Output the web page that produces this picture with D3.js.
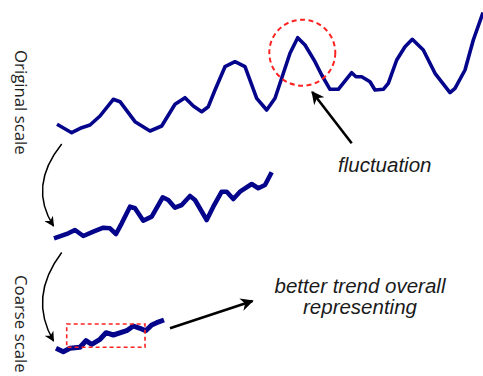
<!DOCTYPE html>
<html><head><meta charset="utf-8">
<script src="https://cdn.jsdelivr.net/npm/d3@7"></script>
<style>html,body{margin:0;padding:0;background:#fff}</style>
</head><body>
<svg id="c" width="483" height="376"></svg>
<script>
// Original scale series: time t, value v
const originalT = [0,14.7,24.7,33,43,56.3,63,78,93,104.7,118,128,136.3,144.7,151.3,158,168,178,188,199.7,209.7,218,233,240.7,248,258,264.7,273,281.3,294.7,299,304.7,313,318,326.3,331.3,339.7,348,355.3,366.3,378,393,398,408,416.3,426];
const originalV = [10.7,2.3,7.3,10,19,35.7,33.3,13.3,4,9,30.7,37.3,29,23.3,28.3,45,68.3,73.3,68.3,36.7,25,36.7,81.7,97.3,90,73.3,60,45.7,45.7,62.3,58.3,58.3,53.3,45,45.7,51.7,75,88.3,95.7,85,61.7,42.3,46.7,65,95,122.5];
// Intermediate scale series
const middleT = [-3,11.3,18,26.3,36.3,46.3,53,59,64.7,73,78,86.3,94.7,105.7,111.3,118,124.7,133,138,149.7,156.3,164.7,169.7,176.3,183,194.7,201.3,208,214.7];
const middleV = [1.7,6.7,10,4,8.3,12.3,11.7,6,16.7,33.3,31.7,19.3,23.3,42.7,40,32.3,35,44,40,20,33.3,48.3,48.3,41,48.3,56,51.7,55,67.7];
// Coarse scale series
const coarseT = [-1,6.3,13,23,29,34.7,43,49,56.3,69.7,76.3,83,88.7,94.7,99.7,107];
const coarseV = [6.7,3.3,6.7,7.7,14.3,10.7,15.7,22.3,20,24.3,29,26.7,24.3,30,32.3,35];

const labels = {
  original: "Original scale",
  coarse: "Coarse scale",
  fluct: "fluctuation",
  trend1: "better trend overall",
  trend2: "representing"
};

const svg = d3.select("#c");
const x = d3.scaleLinear().domain([0, 426]).range([57, 483]);
const yTop = d3.scaleLinear().domain([0, 100]).range([135, 35]);
const yMid = d3.scaleLinear().domain([0, 100]).range([240, 140]);
const yBot = d3.scaleLinear().domain([0, 100]).range([355, 255]);

const navy = "#05058c";
function drawLine(T, V, ys, w) {
  const pts = T.map((t, i) => [t, V[i]]);
  svg.append("path")
    .attr("d", d3.line().x(d => x(d[0])).y(d => ys(d[1])).curve(d3.curveLinear)(pts))
    .attr("fill", "none").attr("stroke", navy).attr("stroke-width", w)
    .attr("stroke-linejoin", "round").attr("stroke-linecap", "butt");
}
drawLine(originalT, originalV, yTop, 3.6);
drawLine(middleT, middleV, yMid, 4.6);
drawLine(coarseT, coarseV, yBot, 5);

// markers
const defs = svg.append("defs");
function marker(id, size) {
  defs.append("marker").attr("id", id)
    .attr("viewBox", "0 0 10 10").attr("refX", 9).attr("refY", 5)
    .attr("markerWidth", size).attr("markerHeight", size)
    .attr("markerUnits", "userSpaceOnUse")
    .attr("orient", "auto")
    .append("path").attr("d", "M0,0 L10,5 L0,10 L3,5 Z").attr("fill", "#000");
}
marker("ah", 13);
marker("ahs", 10);

// red dashed highlight circle (around peak) and rect
svg.append("circle").attr("cx", x(245.3)).attr("cy", yTop(82.3)).attr("r", 33)
  .attr("fill", "none").attr("stroke", "#f22").attr("stroke-width", 2)
  .attr("stroke-dasharray", "5,3.5");
svg.append("rect").attr("x", x(9.7)).attr("y", yBot(31)).attr("width", 78.3).attr("height", 23.3)
  .attr("fill", "none").attr("stroke", "#f22").attr("stroke-width", 1.6)
  .attr("stroke-dasharray", "4,3");

// straight arrows
svg.append("line").attr("x1", 351.7).attr("y1", 143.3).attr("x2", 312.2).attr("y2", 92)
  .attr("stroke", "#000").attr("stroke-width", 2.6).attr("marker-end", "url(#ah)");
svg.append("line").attr("x1", 170).attr("y1", 328.3).attr("x2", 252.5).attr("y2", 301)
  .attr("stroke", "#000").attr("stroke-width", 2.6).attr("marker-end", "url(#ah)");

// curved arrows
svg.append("path").attr("d", "M61.7,144 Q28,186 53.5,226")
  .attr("fill", "none").attr("stroke", "#000").attr("stroke-width", 1.5).attr("marker-end", "url(#ahs)");
svg.append("path").attr("d", "M61.7,252.5 Q28,297 53.5,341")
  .attr("fill", "none").attr("stroke", "#000").attr("stroke-width", 1.5).attr("marker-end", "url(#ahs)");

// rotated labels
function vlabel(txt, cx, y0) {
  svg.append("text").attr("transform", `translate(${cx},${y0}) rotate(90)`)
    .attr("font-family", "Open Sans").attr("font-size", 16.8).attr("fill", "#1e1e1e")
    .text(txt);
}
vlabel(labels.original, 15, 50);
vlabel(labels.coarse, 15, 275);

const it = (t, xx, yy, anchor) => svg.append("text").attr("x", xx).attr("y", yy)
  .attr("font-family", "Liberation Sans, Arial, sans-serif").attr("font-style", "italic")
  .attr("font-size", 20.5).attr("fill", "#1a1a1a").attr("text-anchor", anchor).text(t);
it(labels.fluct, 338, 172, "start");
it(labels.trend1, 360, 292.5, "middle");
it(labels.trend2, 360, 314, "middle");
</script>
</body></html>
